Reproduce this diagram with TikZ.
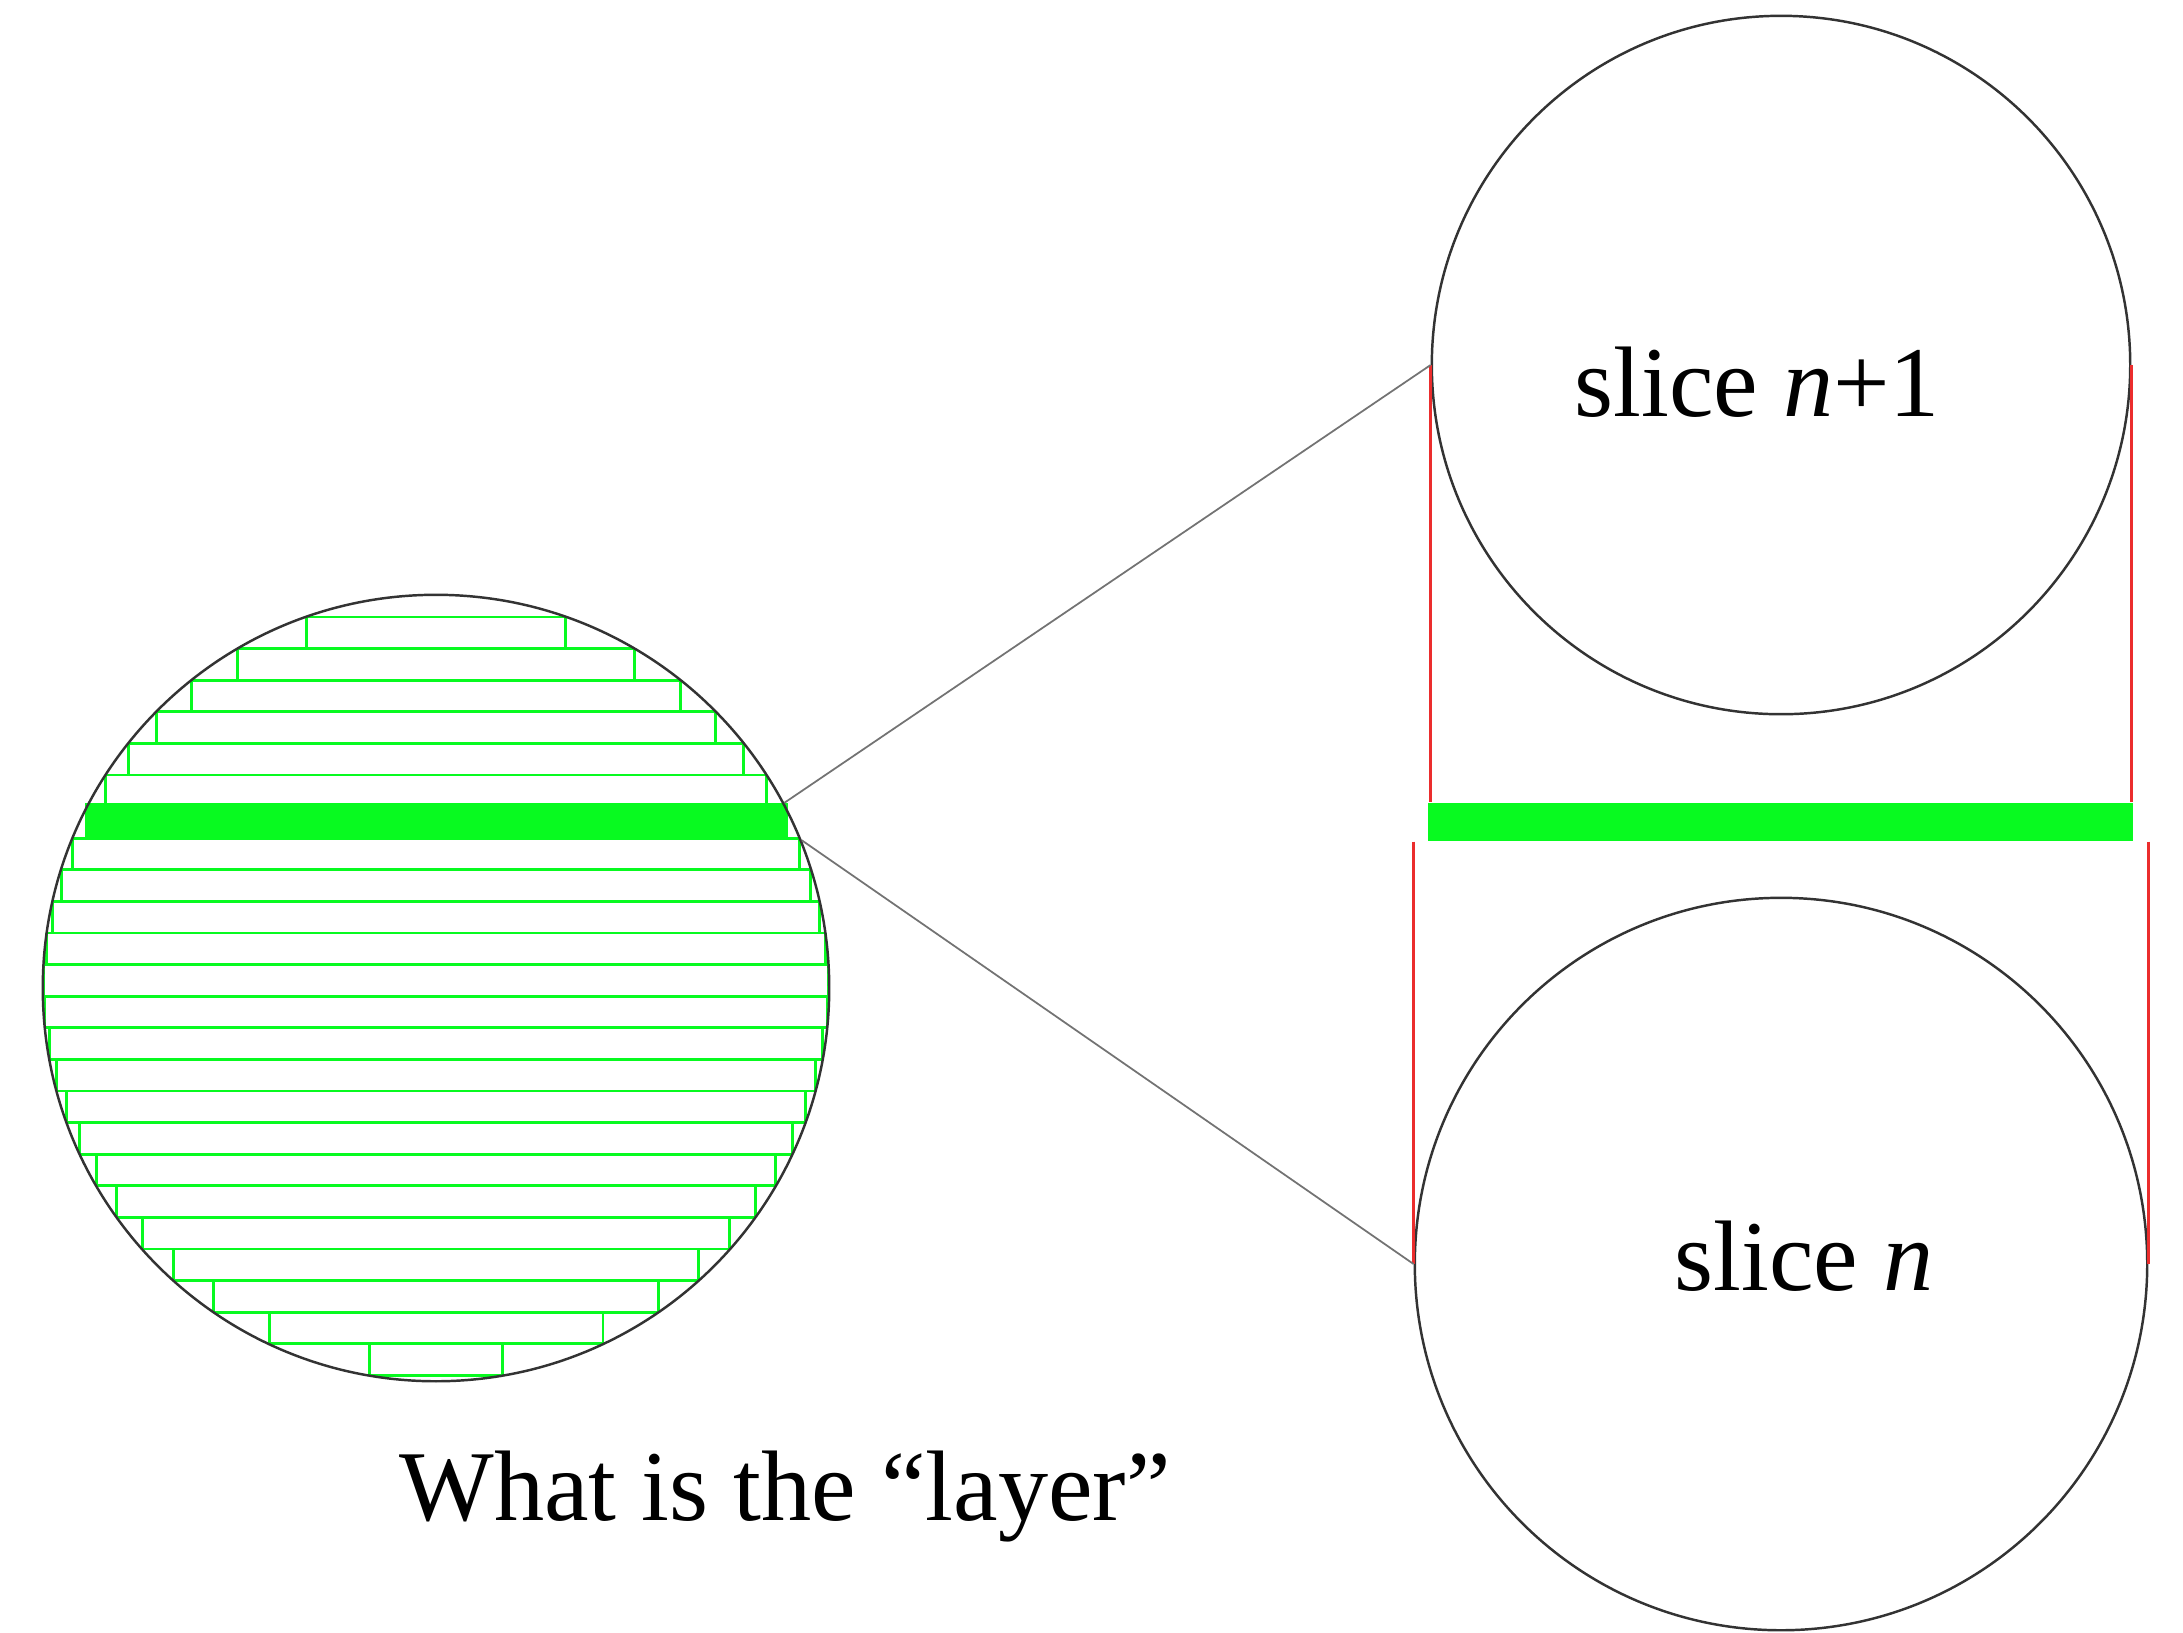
\documentclass[tikz,border=0pt]{standalone}
\usepackage{fontspec}
\setmainfont{Liberation Serif}
\definecolor{layergreen}{RGB}{8,250,32}
\definecolor{rimred}{RGB}{235,45,45}
\begin{document}
\begin{tikzpicture}[x=0.01cm,y=-0.01cm,
  disc/.style={circle,draw=black!80,line width=0.7pt,inner sep=0pt},
  hatch/.style={layergreen,line width=0.8pt},
  bar/.style={fill=layergreen,inner sep=0pt,minimum height=0.37cm},
  rim/.style={rimred,line width=0.8pt},
  link/.style={black!55,line width=0.5pt},
  lbl/.style={anchor=base,font=\fontsize{28.5}{34}\selectfont}]
%width=21.83cm
%height=16.32cm
\useasboundingbox (0,0) rectangle (2183,1632);
% coordinates
\coordinate (layerC) at ( 436, 988);
\coordinate (upperC) at (1781, 365);
\coordinate (lowerC) at (1781,1264);
% layer strips
\foreach \k in {0,...,23} {
  \pgfmathsetmacro\ya{617+31.6*\k}
  \pgfmathsetmacro\yb{617+31.6*(\k+1)}
  \pgfmathsetmacro\hw{100*min(sqrt(3.93^2-((\ya-988)/100)^2),sqrt(3.93^2-((\yb-988)/100)^2))}
  \draw[hatch] (436-\hw,\ya) -- (436-\hw,\yb) (436+\hw,\ya) -- (436+\hw,\yb);
}
\foreach \k in {0,...,24} {
  \pgfmathsetmacro\yk{617+31.6*\k}
  \pgfmathsetmacro\hw{100*sqrt(3.93^2-((\yk-988)/100)^2)}
  \draw[hatch] (436-\hw,\yk) -- (436+\hw,\yk);
}
\node[bar,minimum width=7.03cm] (layerbar) at (436.5,821.5) {};
% circles
\node[disc,minimum size=7.86cm] (layer) at (layerC) {};
\node[disc,minimum size=6.98cm] (upper) at (upperC) {};
\node[disc,minimum size=7.32cm] (lower) at (lowerC) {};
% slice layer
\node[bar,minimum width=7.05cm,minimum height=0.38cm] (slicebar) at (1780.5,822) {};
\draw[rim] (upper.west) -- (upper.west |- slicebar.north);
\draw[rim] (upper.east) -- (upper.east |- slicebar.north);
\draw[rim] (lower.west |- slicebar.south) -- (lower.west);
\draw[rim] (lower.east |- slicebar.south) -- (lower.east);
% zoom lines
\draw[link] (layer.28) -- (upper.west);
\draw[link] (layer.22) -- (lower.west);
% labels
\node[lbl] (uppertext) at (1757, 416) {slice \textit{n}+1};
\node[lbl] (lowertext) at (1804,1290) {slice \textit{n}};
\node[lbl] (caption)   at ( 785,1520) {What is the “layer”};
\end{tikzpicture}
\end{document}
